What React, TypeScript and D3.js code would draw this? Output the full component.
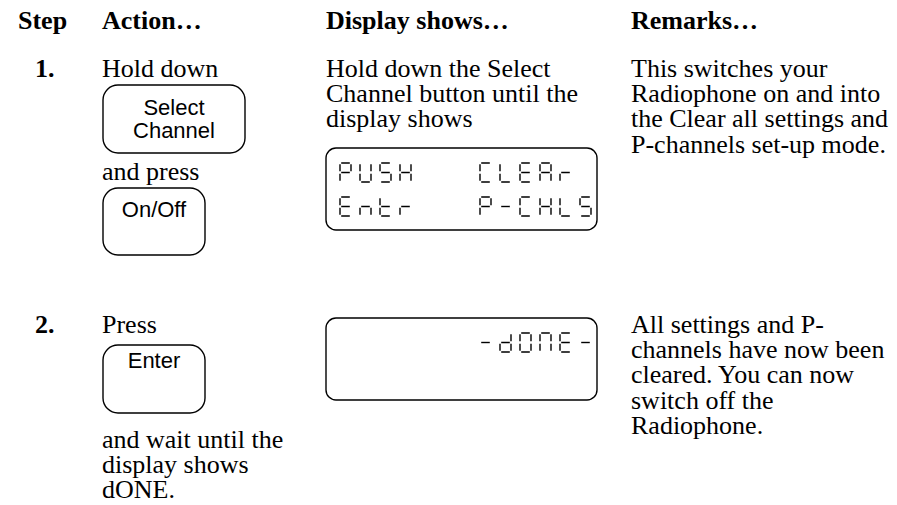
import React from "react";
import * as d3 from "d3";

// table content
const headers = ["Step", "Action…", "Display shows…", "Remarks…"];
const stepLabels = ["1.", "2."];

const step1ActionTop = ["Hold down"];
const step1ActionMid = ["and press"];
const step1KeyA = ["Select", "Channel"];
const step1KeyB = ["On/Off"];
const step1DisplayText = ["Hold down the Select", "Channel button until the", "display shows"];
const step1Lcd = ["PUSH   CLEAr", "Entr   P-CHLS"];
const step1Remarks = [
  "This switches your",
  "Radiophone on and into",
  "the Clear all settings and",
  "P-channels set-up mode.",
];

const step2ActionTop = ["Press"];
const step2Key = ["Enter"];
const step2ActionBottom = ["and wait until the", "display shows", "dONE."];
const step2Lcd = ["       -dONE-", ""];
const step2Remarks = [
  "All settings and P-",
  "channels have now been",
  "cleared. You can now",
  "switch off the",
  "Radiophone.",
];

// seven segment letters used by the radiophone display
const segmentsFor: Record<string, string> = {
  P: "abefg",
  U: "bcdef",
  S: "acdfg",
  H: "bcefg",
  C: "adef",
  L: "def",
  E: "adefg",
  A: "abcefg",
  r: "eg",
  n: "ceg",
  t: "defg",
  "-": "g",
  d: "bcdeg",
  O: "abcdef",
  N: "abcef",
  " ": "",
};

const width = 897;
const height = 505;
const serif = "'Liberation Serif', 'Times New Roman', serif";
const sans = "'Liberation Sans', Arial, sans-serif";
const fontSize = 26;
const lineGap = 25.2;

const colX = { step: 18, stepNum: 35, action: 102, display: 326, remarks: 631 };

const lineY = (start: number) =>
  d3.scaleLinear().domain([0, 1]).range([start, start + lineGap]);

const cellX = d3.scaleLinear().domain([0, 12]).range([340, 580]);
const cellW = 11;
const cellH = 19;

function segmentPath(ch: string, x: number, y: number) {
  const p = d3.path();
  const g = 1.2;
  const w = cellW;
  const h2 = cellH / 2;
  const segs = segmentsFor[ch] ?? "";
  const line = (x1: number, y1: number, x2: number, y2: number) => {
    p.moveTo(x1, y1);
    p.lineTo(x2, y2);
  };
  if (segs.includes("a")) line(x + g, y, x + w - g, y);
  if (segs.includes("b")) line(x + w, y + g, x + w, y + h2 - g);
  if (segs.includes("c")) line(x + w, y + h2 + g, x + w, y + cellH - g);
  if (segs.includes("d")) line(x + g, y + cellH, x + w - g, y + cellH);
  if (segs.includes("e")) line(x, y + h2 + g, x, y + cellH - g);
  if (segs.includes("f")) line(x, y + g, x, y + h2 - g);
  if (segs.includes("g")) line(x + g, y + h2, x + w - g, y + h2);
  return p.toString();
}

const TextLines: React.FC<{ lines: string[]; x: number; y: number; bold?: boolean }> = ({
  lines,
  x,
  y,
  bold,
}) => {
  const ys = lineY(y);
  return (
    <g fontFamily={serif} fontSize={fontSize} fontWeight={bold ? "bold" : "normal"}>
      {lines.map((t, i) => (
        <text key={i} x={x} y={ys(i)}>
          {t}
        </text>
      ))}
    </g>
  );
};

const Key: React.FC<{ label: string[]; x: number; y: number; w: number; h: number; textY: number }> = ({
  label,
  x,
  y,
  w,
  h,
  textY,
}) => (
  <g>
    <rect x={x} y={y} width={w} height={h} rx={15} ry={15} fill="none" stroke="#000" strokeWidth={1.4} />
    {label.map((t, i) => (
      <text
        key={i}
        x={x + w / 2}
        y={textY + i * 23}
        textAnchor="middle"
        fontFamily={sans}
        fontSize={22}
      >
        {t}
      </text>
    ))}
  </g>
);

const Lcd: React.FC<{ rows: string[]; top: number }> = ({ rows, top }) => (
  <g>
    <rect
      x={colX.display}
      y={top}
      width={597 - colX.display}
      height={82}
      rx={10}
      ry={10}
      fill="none"
      stroke="#000"
      strokeWidth={1.4}
    />
    {rows.map((row, r) =>
      row.split("").map((ch, i) => (
        <path
          key={`${r}-${i}`}
          d={segmentPath(ch, cellX(i), top + 15 + r * 34)}
          fill="none"
          stroke="#000"
          strokeWidth={1.4}
        />
      ))
    )}
  </g>
);

export default function App() {
  return (
    <svg
      width={width}
      height={height}
      viewBox={`0 0 ${width} ${height}`}
      style={{ position: "absolute", left: 0, top: 0, background: "#fff" }}
    >
      <rect width={width} height={height} fill="#fff" />
      <g fontFamily={serif} fontSize={fontSize} fontWeight="bold">
        {headers.map((h, i) => (
          <text key={h} x={[colX.step, colX.action, colX.display, colX.remarks][i]} y={29}>
            {h}
          </text>
        ))}
      </g>

      {/* step 1 */}
      <TextLines lines={[stepLabels[0]]} x={colX.stepNum} y={77} bold />
      <TextLines lines={step1ActionTop} x={colX.action} y={77} />
      <Key label={step1KeyA} x={103} y={85} w={142} h={68} textY={115} />
      <TextLines lines={step1ActionMid} x={colX.action} y={180} />
      <Key label={step1KeyB} x={103} y={188} w={102} h={67} textY={217} />
      <TextLines lines={step1DisplayText} x={colX.display} y={77} />
      <Lcd rows={step1Lcd} top={148} />
      <TextLines lines={step1Remarks} x={colX.remarks} y={77} />

      {/* step 2 */}
      <TextLines lines={[stepLabels[1]]} x={colX.stepNum} y={333} bold />
      <TextLines lines={step2ActionTop} x={colX.action} y={333} />
      <Key label={step2Key} x={103} y={345} w={102} h={68} textY={368} />
      <TextLines lines={step2ActionBottom} x={colX.action} y={448} />
      <Lcd rows={step2Lcd} top={318} />
      <TextLines lines={step2Remarks} x={colX.remarks} y={333} />
    </svg>
  );
}
